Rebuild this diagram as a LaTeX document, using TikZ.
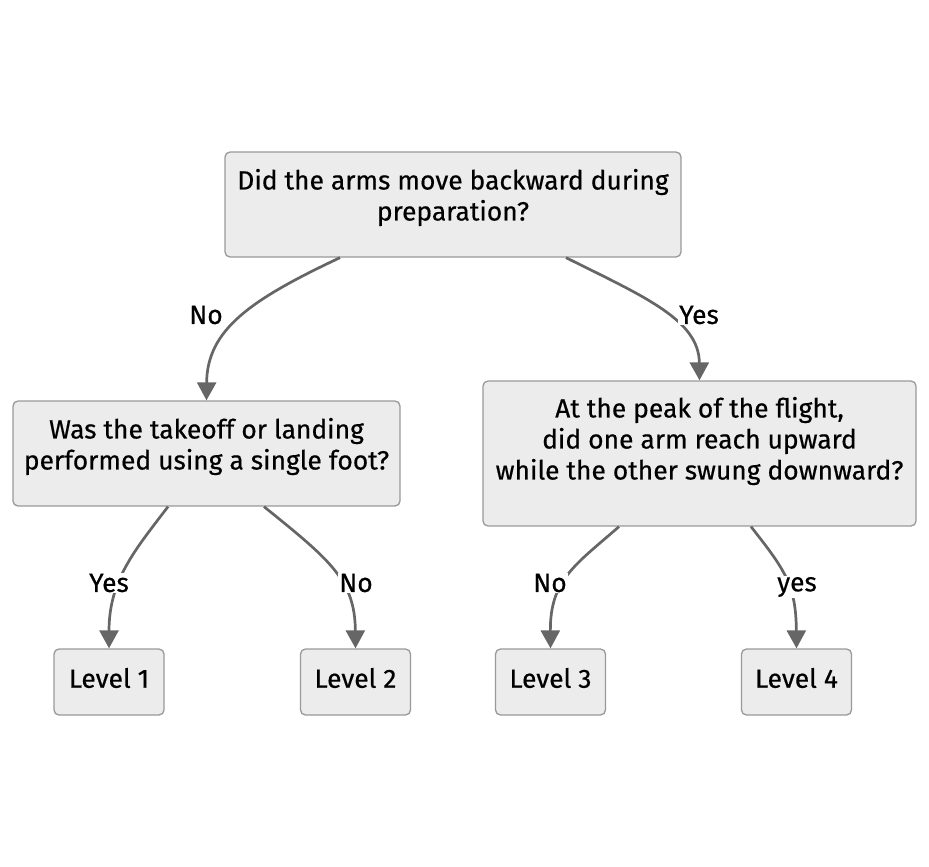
\documentclass[tikz,border=0pt]{standalone}
\usepackage{fontspec}
\setmainfont{Fira Sans}
\newfontfamily\dfont{Fira Sans}[FakeBold=0.5]
\usetikzlibrary{arrows.meta}
\definecolor{boxfill}{HTML}{ECECEC}
\definecolor{boxline}{HTML}{999999}
\definecolor{edgecol}{HTML}{666666}
\tikzset{
  box/.style={draw=boxline, fill=boxfill, line width=1.3pt, rounded corners=5pt, inner sep=0pt},
  txt/.style={align=center, font=\dfont\fontsize{26.4}{31}\selectfont, inner sep=0pt},
  edge/.style={draw=edgecol, line width=2.7pt, -{Triangle[length=18pt,width=19pt]}},
  elabel/.style={fill=white, font=\dfont\fontsize{26.4}{31}\selectfont, inner sep=1pt}
}
\begin{document}
\begin{tikzpicture}[x=1pt,y=-1pt]
\useasboundingbox (0,0) rectangle (929,867);
% boxes
\node[box, minimum width=456pt, minimum height=105pt] (q1) at (453,204.5) {};
\node[txt] (q1t) at (453,197.5) {Did the arms move backward during\\preparation?};
\node[box, minimum width=387pt, minimum height=105pt] (q2) at (206.5,453.5) {};
\node[txt] (q2t) at (206.5,446.5) {Was the takeoff or landing\\performed using a single foot?};
\node[box, minimum width=433pt, minimum height=145pt] (q3) at (699.5,453.5) {};
\node[txt] (q3t) at (699.5,441) {At the peak of the flight,\\did one arm reach upward\\while the other swung downward?};
\node[box, minimum width=110pt, minimum height=66pt] (l1) at (109,682) {};
\node[txt] (l1t) at (109,678) {Level 1};
\node[box, minimum width=110pt, minimum height=66pt] (l2) at (355.5,682) {};
\node[txt] (l2t) at (355.5,678) {Level 2};
\node[box, minimum width=110pt, minimum height=66pt] (l3) at (550.5,682) {};
\node[txt] (l3t) at (550.5,678) {Level 3};
\node[box, minimum width=110pt, minimum height=66pt] (l4) at (796.5,682) {};
\node[txt] (l4t) at (796.5,678) {Level 4};
% edges
\draw[edge] ([xshift=-113pt]q1.south) .. controls (250,300) and (207,330) .. (q2.north);
\draw[edge] ([xshift=113pt]q1.south) .. controls (645,297) and (699,320) .. (q3.north);
\draw[edge] ([xshift=-38.5pt]q2.south) .. controls (135,550) and (109,580) .. (l1.north);
\draw[edge] ([xshift=57.5pt]q2.south) .. controls (330,560) and (355,580) .. (l2.north);
\draw[edge] ([xshift=-80.5pt]q3.south) .. controls (575,565) and (550,580) .. (l3.north);
\draw[edge] ([xshift=51.5pt]q3.south) .. controls (785,570) and (796,585) .. (l4.north);
% labels
\node[elabel] (e1) at (206,315) {No};
\node[elabel] (e2) at (699,315) {Yes};
\node[elabel] (e3) at (109,583) {Yes};
\node[elabel] (e4) at (356,583) {No};
\node[elabel] (e5) at (550,583) {No};
\node[elabel] (e6) at (797,587) {yes};
\end{tikzpicture}
\end{document}
